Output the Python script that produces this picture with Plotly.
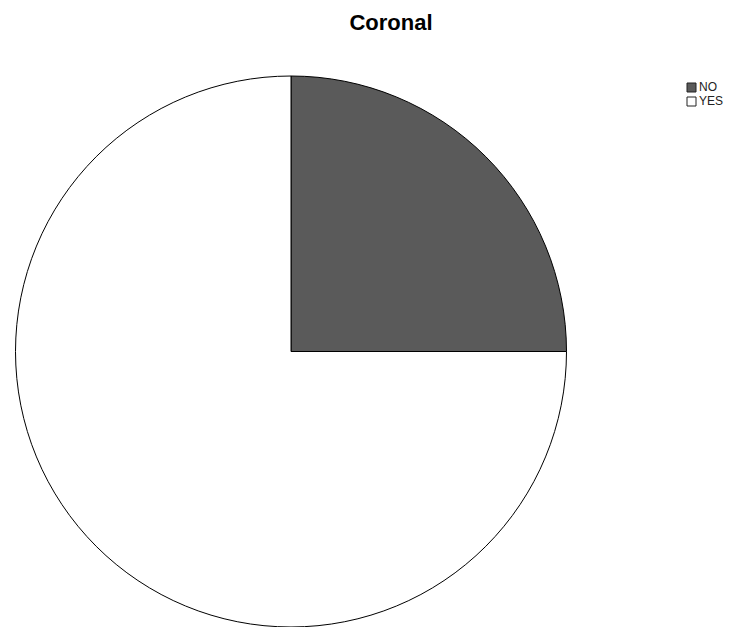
import plotly.graph_objects as go

# Coronal response counts (share of cases)
labels = ["NO", "YES"]
values = [25, 75]
colors = ["#5a5a5a", "#ffffff"]

W, H = 737, 627
FONT = "Liberation Sans, Arial, sans-serif"

fig = go.Figure(
    go.Pie(
        labels=labels,
        values=values,
        sort=False,
        direction="clockwise",
        rotation=0,
        textinfo="none",
        hoverinfo="label+percent",
        showlegend=False,
        marker=dict(colors=colors, line=dict(color="#000000", width=1)),
        domain=dict(x=[14 / W, 568 / W], y=[0, 551 / H]),
    )
)

# Compact legend: small swatch with the label set right beside it
sw_x0, sw_size, top, step = 687, 9, 83, 14
for i, (lab, col) in enumerate(zip(labels, colors)):
    y0 = top + i * step
    fig.add_shape(
        type="rect", xref="paper", yref="paper",
        x0=sw_x0 / W, x1=(sw_x0 + sw_size) / W,
        y0=1 - y0 / H, y1=1 - (y0 + sw_size) / H,
        fillcolor=col, line=dict(color="#222222", width=1),
    )
    fig.add_annotation(
        xref="paper", yref="paper",
        x=(sw_x0 + sw_size + 1) / W, y=1 - (y0 + sw_size / 2) / H,
        xanchor="left", yanchor="middle",
        text=lab, showarrow=False,
        font=dict(family=FONT, size=12, color="#222222"),
    )

fig.update_layout(
    width=W,
    height=H,
    margin=dict(l=0, r=0, t=0, b=0),
    paper_bgcolor="white",
    plot_bgcolor="white",
    showlegend=False,
    title=dict(
        text="<b>Coronal</b>",
        x=391 / W,
        xanchor="center",
        y=1 - 22 / H,
        yanchor="middle",
        font=dict(family=FONT, size=22, color="#000000"),
    ),
)

fig.write_html("out.html")
